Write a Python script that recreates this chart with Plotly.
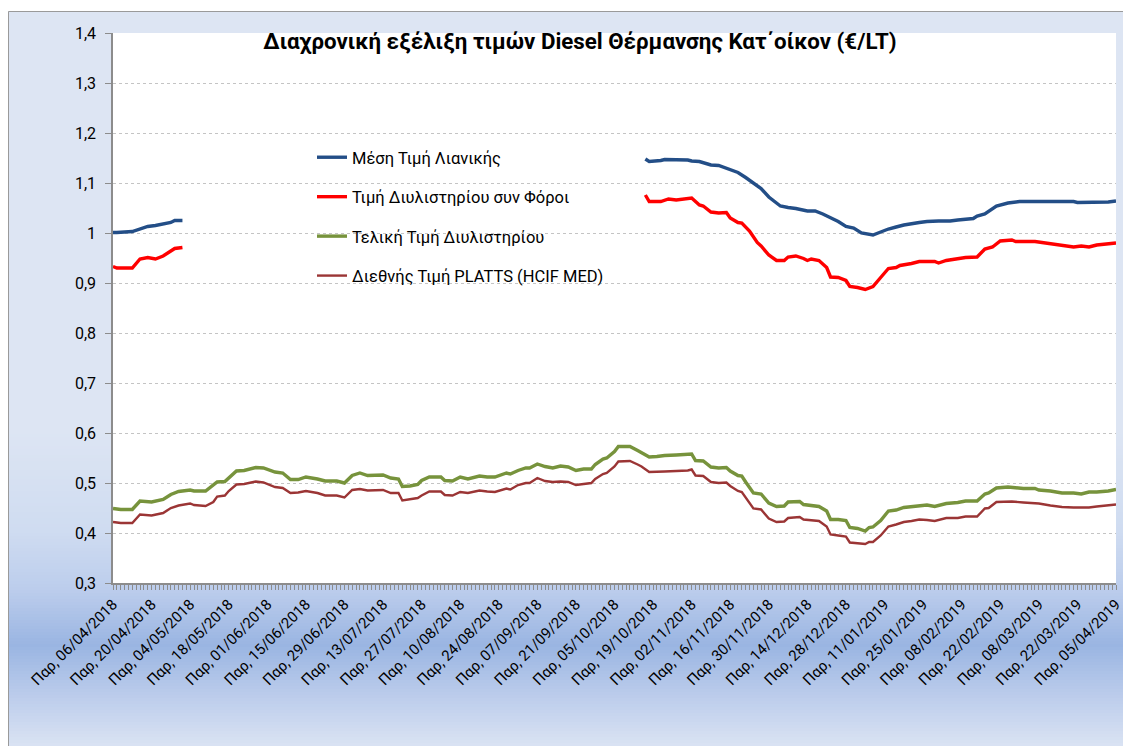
import plotly.graph_objects as go
import pandas as pd

# ---------------- data ----------------
categories = pd.bdate_range("2018-04-06", "2019-04-05").strftime("%Y-%m-%d").tolist()

tick_labels = [
    "Παρ, 06/04/2018", "Παρ, 20/04/2018", "Παρ, 04/05/2018", "Παρ, 18/05/2018",
    "Παρ, 01/06/2018", "Παρ, 15/06/2018", "Παρ, 29/06/2018", "Παρ, 13/07/2018",
    "Παρ, 27/07/2018", "Παρ, 10/08/2018", "Παρ, 24/08/2018", "Παρ, 07/09/2018",
    "Παρ, 21/09/2018", "Παρ, 05/10/2018", "Παρ, 19/10/2018", "Παρ, 02/11/2018",
    "Παρ, 16/11/2018", "Παρ, 30/11/2018", "Παρ, 14/12/2018", "Παρ, 28/12/2018",
    "Παρ, 11/01/2019", "Παρ, 25/01/2019", "Παρ, 08/02/2019", "Παρ, 22/02/2019",
    "Παρ, 08/03/2019", "Παρ, 22/03/2019", "Παρ, 05/04/2019",
]

y_ticks = [0.3, 0.4, 0.5, 0.6, 0.7, 0.8, 0.9, 1.0, 1.1, 1.2, 1.3, 1.4]
y_tick_labels = ["0,3", "0,4", "0,5", "0,6", "0,7", "0,8", "0,9", "1", "1,1", "1,2", "1,3", "1,4"]

series_names = [
    "Μέση Τιμή Λιανικής",
    "Τιμή Διυλιστηρίου συν Φόροι",
    "Τελική Τιμή Διυλιστηρίου",
    "Διεθνής Τιμή PLATTS (HCIF MED)",
]

retail_dates = [
    "2018-04-06", "2018-04-09", "2018-04-13", "2018-04-17", "2018-04-19", "2018-04-23",
    "2018-04-25", "2018-04-27", "2018-04-30", "2018-05-02", "2018-05-03",
    "2018-10-17", "2018-10-18", "2018-10-23", "2018-10-24", "2018-11-01", "2018-11-02",
    "2018-11-06", "2018-11-09", "2018-11-13", "2018-11-15", "2018-11-19", "2018-11-20",
    "2018-11-22", "2018-11-26", "2018-11-28", "2018-11-30", "2018-12-03", "2018-12-05",
    "2018-12-07", "2018-12-11", "2018-12-14", "2018-12-18", "2018-12-20", "2018-12-24",
    "2018-12-26", "2018-12-28", "2019-01-01", "2019-01-03", "2019-01-08", "2019-01-10",
    "2019-01-14", "2019-01-16", "2019-01-18", "2019-01-24", "2019-01-28", "2019-01-31",
    "2019-02-05", "2019-02-07", "2019-02-13", "2019-02-14", "2019-02-18", "2019-02-21",
    "2019-02-26", "2019-03-01", "2019-03-08", "2019-03-21", "2019-03-22", "2019-04-03",
    "2019-04-05",
]
retail_values = [
    1.001, 1.001, 1.003, 1.008, 1.013, 1.015,
    1.018, 1.021, 1.025, 1.025, None,
    1.148, 1.143, 1.145, 1.147, 1.146, 1.144,
    1.143, 1.136, 1.135, 1.129, 1.123, 1.121,
    1.111, 1.100, 1.089, 1.072, 1.066, 1.054,
    1.051, 1.049, 1.044, 1.044, 1.038, 1.031,
    1.023, 1.013, 1.010, 1.000, 0.996, 1.002,
    1.008, 1.012, 1.016, 1.021, 1.023, 1.024,
    1.024, 1.026, 1.029, 1.034, 1.038, 1.054,
    1.060, 1.063, 1.063, 1.063, 1.061, 1.062,
    1.064,
]

refinery_tax_dates = [
    "2018-04-06", "2018-04-09", "2018-04-13", "2018-04-17", "2018-04-19", "2018-04-23",
    "2018-04-25", "2018-04-27", "2018-04-30", "2018-05-02", "2018-05-03",
    "2018-10-17", "2018-10-18", "2018-10-23", "2018-10-25", "2018-10-29", "2018-11-02",
    "2018-11-06", "2018-11-07", "2018-11-09", "2018-11-13", "2018-11-15", "2018-11-16",
    "2018-11-20", "2018-11-21", "2018-11-23", "2018-11-27", "2018-11-28", "2018-11-30",
    "2018-12-04", "2018-12-06", "2018-12-07", "2018-12-11", "2018-12-13", "2018-12-14",
    "2018-12-17", "2018-12-19", "2018-12-21", "2018-12-24", "2018-12-26", "2018-12-28",
    "2018-12-31", "2019-01-02", "2019-01-04", "2019-01-08", "2019-01-10", "2019-01-14",
    "2019-01-16", "2019-01-17", "2019-01-22", "2019-01-24", "2019-01-30", "2019-01-31",
    "2019-02-04", "2019-02-06", "2019-02-11", "2019-02-14", "2019-02-18", "2019-02-20",
    "2019-02-22", "2019-02-27", "2019-02-28", "2019-03-07", "2019-03-13", "2019-03-18",
    "2019-03-21", "2019-03-25", "2019-03-27", "2019-03-29", "2019-04-03", "2019-04-05",
]
refinery_tax_values = [
    0.933, 0.930, 0.930, 0.948, 0.951, 0.948,
    0.954, 0.965, 0.969, 0.971, None,
    1.076, 1.063, 1.063, 1.068, 1.066, 1.070,
    1.056, 1.054, 1.042, 1.040, 1.041, 1.030,
    1.021, 1.020, 1.004, 0.981, 0.974, 0.956,
    0.945, 0.945, 0.952, 0.954, 0.949, 0.945,
    0.948, 0.945, 0.931, 0.912, 0.911, 0.905,
    0.893, 0.891, 0.887, 0.893, 0.911, 0.929,
    0.931, 0.935, 0.939, 0.943, 0.943, 0.940,
    0.945, 0.948, 0.951, 0.952, 0.968, 0.972,
    0.984, 0.986, 0.983, 0.983, 0.979, 0.976,
    0.972, 0.974, 0.972, 0.976, 0.978, 0.980,
]

refinery_dates = [
    "2018-04-06", "2018-04-10", "2018-04-13", "2018-04-17", "2018-04-20", "2018-04-25",
    "2018-04-27", "2018-05-01", "2018-05-04", "2018-05-07", "2018-05-10", "2018-05-14",
    "2018-05-15", "2018-05-17", "2018-05-18", "2018-05-22", "2018-05-24", "2018-05-28",
    "2018-05-29", "2018-05-31", "2018-06-05", "2018-06-07", "2018-06-11", "2018-06-13",
    "2018-06-15", "2018-06-20", "2018-06-22", "2018-06-27", "2018-06-29", "2018-07-03",
    "2018-07-05", "2018-07-09", "2018-07-12", "2018-07-13", "2018-07-17", "2018-07-19",
    "2018-07-20", "2018-07-24", "2018-07-26", "2018-07-27", "2018-07-31", "2018-08-03",
    "2018-08-06", "2018-08-08", "2018-08-10", "2018-08-14", "2018-08-17", "2018-08-21",
    "2018-08-23", "2018-08-28", "2018-08-29", "2018-08-31", "2018-09-04", "2018-09-05",
    "2018-09-07", "2018-09-11", "2018-09-13", "2018-09-17", "2018-09-19", "2018-09-21",
    "2018-09-25", "2018-09-27", "2018-09-28", "2018-10-02", "2018-10-03", "2018-10-05",
    "2018-10-08", "2018-10-10", "2018-10-11", "2018-10-15", "2018-10-16", "2018-10-18",
    "2018-10-22", "2018-10-24", "2018-10-29", "2018-11-01", "2018-11-02", "2018-11-05",
    "2018-11-07", "2018-11-09", "2018-11-13", "2018-11-15", "2018-11-16", "2018-11-20",
    "2018-11-21", "2018-11-22", "2018-11-26", "2018-11-28", "2018-11-30", "2018-12-04",
    "2018-12-06", "2018-12-07", "2018-12-12", "2018-12-13", "2018-12-17", "2018-12-19",
    "2018-12-21", "2018-12-24", "2018-12-26", "2018-12-28", "2018-12-31", "2019-01-02",
    "2019-01-04", "2019-01-07", "2019-01-08", "2019-01-10", "2019-01-14", "2019-01-16",
    "2019-01-18", "2019-01-22", "2019-01-24", "2019-01-28", "2019-01-30", "2019-02-04",
    "2019-02-07", "2019-02-11", "2019-02-14", "2019-02-18", "2019-02-19", "2019-02-21",
    "2019-02-26", "2019-02-27", "2019-03-04", "2019-03-07", "2019-03-08", "2019-03-13",
    "2019-03-18", "2019-03-21", "2019-03-25", "2019-03-27", "2019-03-29", "2019-04-03",
    "2019-04-05",
]
refinery_final_values = [
    0.449, 0.447, 0.447, 0.464, 0.462, 0.467,
    0.477, 0.483, 0.486, 0.484, 0.484, 0.495,
    0.502, 0.503, 0.510, 0.524, 0.525, 0.530,
    0.531, 0.530, 0.522, 0.520, 0.507, 0.507,
    0.512, 0.508, 0.504, 0.504, 0.500, 0.515,
    0.520, 0.515, 0.515, 0.516, 0.510, 0.508,
    0.493, 0.494, 0.497, 0.505, 0.512, 0.512,
    0.505, 0.504, 0.512, 0.508, 0.514, 0.512,
    0.512, 0.520, 0.518, 0.525, 0.530, 0.530,
    0.538, 0.533, 0.530, 0.534, 0.532, 0.525,
    0.528, 0.528, 0.537, 0.548, 0.550, 0.563,
    0.573, 0.574, 0.573, 0.565, 0.561, 0.552,
    0.553, 0.555, 0.556, 0.557, 0.558, 0.545,
    0.544, 0.532, 0.530, 0.531, 0.524, 0.515,
    0.514, 0.502, 0.480, 0.478, 0.460, 0.453,
    0.454, 0.462, 0.463, 0.457, 0.455, 0.453,
    0.444, 0.427, 0.427, 0.425, 0.411, 0.409,
    0.404, 0.411, 0.412, 0.425, 0.444, 0.446,
    0.451, 0.453, 0.455, 0.456, 0.453, 0.459,
    0.461, 0.464, 0.464, 0.478, 0.480, 0.490,
    0.492, 0.491, 0.489, 0.489, 0.486, 0.484,
    0.480, 0.480, 0.478, 0.482, 0.482, 0.484,
    0.487,
]
platts_values = [
    0.422, 0.420, 0.420, 0.437, 0.435, 0.440,
    0.450, 0.455, 0.459, 0.456, 0.454, 0.462,
    0.473, 0.475, 0.484, 0.497, 0.498, 0.502,
    0.503, 0.501, 0.492, 0.490, 0.480, 0.481,
    0.484, 0.480, 0.475, 0.475, 0.471, 0.486,
    0.488, 0.485, 0.485, 0.486, 0.480, 0.480,
    0.465, 0.467, 0.470, 0.475, 0.483, 0.483,
    0.476, 0.475, 0.482, 0.480, 0.485, 0.483,
    0.482, 0.489, 0.487, 0.496, 0.500, 0.500,
    0.510, 0.504, 0.502, 0.503, 0.502, 0.496,
    0.498, 0.500, 0.508, 0.518, 0.520, 0.533,
    0.543, 0.543, 0.544, 0.537, 0.533, 0.522,
    0.522, 0.523, 0.524, 0.525, 0.527, 0.515,
    0.514, 0.502, 0.500, 0.501, 0.494, 0.484,
    0.482, 0.471, 0.449, 0.447, 0.429, 0.422,
    0.423, 0.430, 0.432, 0.427, 0.425, 0.424,
    0.413, 0.397, 0.395, 0.393, 0.381, 0.380,
    0.378, 0.382, 0.382, 0.395, 0.413, 0.417,
    0.422, 0.424, 0.427, 0.426, 0.424, 0.430,
    0.430, 0.433, 0.433, 0.449, 0.450, 0.462,
    0.463, 0.463, 0.461, 0.460, 0.459, 0.455,
    0.452, 0.451, 0.451, 0.451, 0.453, 0.455,
    0.457,
]

title_text = "Διαχρονική εξέλιξη τιμών Diesel Θέρμανσης Κατ΄οίκον (€/LT)"

# ---------------- styling ----------------
FONT = "Roboto"
OFF = 8                      # page body margin of the written html
W, H = 1131 - OFF, 746 - OFF
# plot area, in page pixels of the target picture
RL, RR, RT, RB = 113, 1116, 33, 583
PL, PR, PT, PB = RL - OFF, RR - OFF, RT - OFF, RB - OFF

colors = ["#234e87", "#ff0000", "#77933c", "#9b3535"]
widths = [3.4, 3.4, 3.4, 2.4]


def paper_x(px):
    return (px - RL) / (RR - RL)


def paper_y(py):
    return (RB - py) / (RB - RT)


label_by_date = {
    pd.to_datetime(lbl.split(", ")[1], dayfirst=True).strftime("%Y-%m-%d"): lbl
    for lbl in tick_labels
}
tick_text_all = [label_by_date.get(c, "") for c in categories]

fig = go.Figure()
xs = [retail_dates, refinery_tax_dates, refinery_dates, refinery_dates]
ys = [retail_values, refinery_tax_values, refinery_final_values, platts_values]
for i in range(4):
    fig.add_trace(go.Scatter(
        x=xs[i], y=ys[i], name=series_names[i], mode="lines",
        line=dict(color=colors[i], width=widths[i]),
        connectgaps=False, legendgroup=f"g{i}",
    ))

# background gradient of the chart area (page pixel rows)
stops = [
    (11, (221, 229, 243)), (430, (221, 229, 243)), (530, (207, 220, 241)),
    (590, (188, 205, 236)), (645, (154, 181, 226)), (700, (190, 206, 236)),
    (746, (218, 227, 243)),
]


def grad(py):
    for (a, ca), (b, cb) in zip(stops[:-1], stops[1:]):
        if a <= py <= b:
            t = (py - a) / (b - a)
            c = [round(ca[k] + (cb[k] - ca[k]) * t) for k in range(3)]
            return f"rgb({c[0]},{c[1]},{c[2]})"
    return "rgb(%d,%d,%d)" % stops[-1][1]


shapes = []
step = 3
for py in range(11, 750, step):
    shapes.append(dict(
        type="rect", xref="paper", yref="paper", layer="below",
        x0=paper_x(0), x1=paper_x(1140), y0=paper_y(py + step + 0.6), y1=paper_y(py),
        fillcolor=grad(py + step / 2), line=dict(width=0),
    ))
shapes.append(dict(type="rect", xref="paper", yref="paper", layer="below",
                   x0=0, x1=1, y0=0, y1=1, fillcolor="white", line=dict(width=0)))
shapes.append(dict(type="rect", xref="paper", yref="paper", layer="below",
                   x0=paper_x(8.5), x1=paper_x(1145), y0=paper_y(760), y1=paper_y(11.5),
                   fillcolor="rgba(0,0,0,0)", line=dict(color="#9a9a9a", width=1)))

fig.update_layout(
    width=W, height=H,
    margin=dict(l=PL, r=W - PR, t=PT, b=H - PB, autoexpand=False),
    paper_bgcolor="white", plot_bgcolor="white",
    font=dict(family=FONT, color="black"),
    shapes=shapes,
    title=dict(text=title_text, x=(580 - OFF) / W, xanchor="center", xref="container",
               y=1 - (41 - OFF) / H, yanchor="middle", yref="container",
               font=dict(family=FONT, size=22.3, color="black", weight="bold")),
    legend=dict(x=paper_x(312), y=paper_y(140), xanchor="left", yanchor="top",
                bgcolor="rgba(0,0,0,0)", font=dict(family=FONT, size=16.5, color="black"),
                tracegroupgap=15, traceorder="grouped"),
    showlegend=True,
    xaxis=dict(
        type="category", categoryorder="array", categoryarray=categories,
        range=[0, len(categories) - 1],
        tickmode="array", tickvals=categories, ticktext=tick_text_all,
        tickangle=-45, tickfont=dict(family=FONT, size=15, color="black"),
        ticks="outside", ticklen=5, tickcolor="#8c8c8c", tickwidth=1,
        showline=True, linecolor="#8c8c8c", linewidth=1.5,
        showgrid=False, zeroline=False, automargin=False,
    ),
    yaxis=dict(
        range=[0.3, 1.4], tickmode="array", tickvals=y_ticks, ticktext=y_tick_labels,
        tickfont=dict(family=FONT, size=16, color="black"),
        ticks="outside", ticklen=6, tickcolor="#8c8c8c",
        showline=True, linecolor="#8c8c8c", linewidth=1.5,
        showgrid=True, gridcolor="#c4c4c4", griddash="dot", gridwidth=1,
        zeroline=False, automargin=False, ticklabelstandoff=6,
    ),
)

fig.write_html("out.html")
